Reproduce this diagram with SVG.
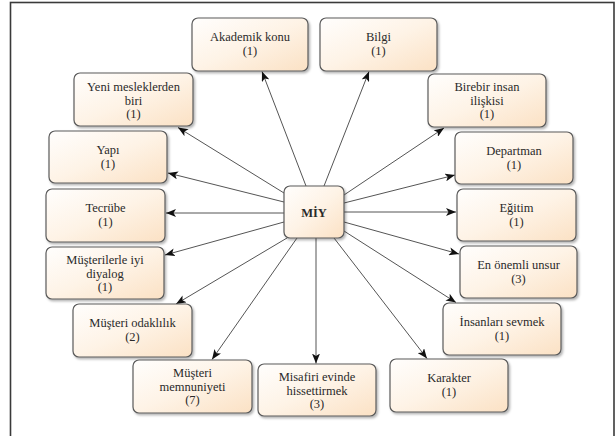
<svg xmlns="http://www.w3.org/2000/svg" width="616" height="436" viewBox="0 0 616 436">
<style>
.node rect{fill:url(#g);stroke:#5a5a5a;stroke-width:1.2;filter:url(#sh)}
.node text{font-size:12.5px;fill:#2a2a2a;text-anchor:middle}
.conn line{stroke:#555;stroke-width:1;marker-end:url(#ah)}
</style>
<defs>
<linearGradient id="g" x1="0" y1="0" x2="1" y2="1">
<stop offset="0" stop-color="#fffefd"/>
<stop offset="0.5" stop-color="#fef3e6"/>
<stop offset="1" stop-color="#fbe1c4"/>
</linearGradient>
<filter id="sh" x="-10%" y="-10%" width="125%" height="130%">
<feDropShadow dx="1.5" dy="1.8" stdDeviation="1.2" flood-color="#000" flood-opacity="0.3"/>
</filter>
<marker id="ah" markerUnits="userSpaceOnUse" markerWidth="10" markerHeight="8" refX="10" refY="4" orient="auto">
<path d="M0,0 L10,4 L0,8 L2.5,4 z" fill="#111"/>
</marker>
</defs>
<rect x="10.5" y="2.5" width="603.5" height="450" fill="#fff" stroke="#3a3a3a" stroke-width="1.6"/>
<g id="connectors" class="conn">
<line x1="306" y1="186" x2="262" y2="71.5"/>
<line x1="324" y1="186" x2="369" y2="71.5"/>
<line x1="284" y1="193" x2="178" y2="127.5"/>
<line x1="284" y1="202" x2="168" y2="173"/>
<line x1="284" y1="213" x2="166" y2="213"/>
<line x1="284" y1="222" x2="165" y2="255"/>
<line x1="287" y1="238" x2="176" y2="304"/>
<line x1="297" y1="238" x2="212" y2="359.5"/>
<line x1="316" y1="238" x2="316" y2="363.5"/>
<line x1="334" y1="238" x2="427" y2="358.5"/>
<line x1="344" y1="231" x2="456" y2="302.5"/>
<line x1="344" y1="222" x2="459" y2="254"/>
<line x1="344" y1="212" x2="456" y2="212"/>
<line x1="344" y1="203" x2="455" y2="175"/>
<line x1="344" y1="195" x2="444" y2="128"/>
</g>
<g font-family="'Liberation Serif', 'DejaVu Serif', serif">
<g id="n-miy" class="node"><rect x="284" y="186" width="60" height="52" rx="6"/><text x="314" y="216.5" font-weight="bold" font-size="13">MİY</text></g>
<g id="n-akademik" class="node"><rect x="192" y="18" width="116" height="53" rx="6"/><text x="250" y="41">Akademik konu</text><text x="250" y="55">(1)</text></g>
<g id="n-bilgi" class="node"><rect x="320" y="18" width="117" height="53" rx="6"/><text x="378.5" y="41">Bilgi</text><text x="378.5" y="55">(1)</text></g>
<g id="n-yeni" class="node"><rect x="74" y="73" width="119" height="53" rx="6"/><text x="133.5" y="91">Yeni mesleklerden</text><text x="133.5" y="104.5">biri</text><text x="133.5" y="118">(1)</text></g>
<g id="n-birebir" class="node"><rect x="428" y="74" width="118" height="53" rx="6"/><text x="487" y="91">Birebir insan</text><text x="487" y="104.5">ilişkisi</text><text x="487" y="118">(1)</text></g>
<g id="n-yapi" class="node"><rect x="49" y="131" width="118" height="52" rx="6"/><text x="108" y="154">Yapı</text><text x="108" y="168">(1)</text></g>
<g id="n-departman" class="node"><rect x="455" y="132" width="118" height="52" rx="6"/><text x="514" y="155">Departman</text><text x="514" y="169">(1)</text></g>
<g id="n-tecrube" class="node"><rect x="46" y="189" width="119" height="53" rx="6"/><text x="105.5" y="212">Tecrübe</text><text x="105.5" y="226">(1)</text></g>
<g id="n-egitim" class="node"><rect x="457" y="189" width="119" height="52" rx="6"/><text x="516.5" y="212">Eğitim</text><text x="516.5" y="226">(1)</text></g>
<g id="n-diyalog" class="node"><rect x="46" y="247" width="118" height="52" rx="6"/><text x="105" y="264">Müşterilerle iyi</text><text x="105" y="277.5">diyalog</text><text x="105" y="291">(1)</text></g>
<g id="n-unsur" class="node"><rect x="460" y="246" width="117" height="52" rx="6"/><text x="518.5" y="269">En önemli unsur</text><text x="518.5" y="283">(3)</text></g>
<g id="n-odaklilik" class="node"><rect x="73" y="304" width="119" height="53" rx="6"/><text x="132.5" y="327">Müşteri odaklılık</text><text x="132.5" y="341">(2)</text></g>
<g id="n-insanlari" class="node"><rect x="443" y="303" width="118" height="52" rx="6"/><text x="502" y="326">İnsanları sevmek</text><text x="502" y="340">(1)</text></g>
<g id="n-memnuniyet" class="node"><rect x="133" y="360" width="119" height="53" rx="6"/><text x="192.5" y="377">Müşteri</text><text x="192.5" y="390.5">memnuniyeti</text><text x="192.5" y="404">(7)</text></g>
<g id="n-misafir" class="node"><rect x="258" y="364" width="118" height="52" rx="6"/><text x="317" y="381">Misafiri evinde</text><text x="317" y="394.5">hissettirmek</text><text x="317" y="408">(3)</text></g>
<g id="n-karakter" class="node"><rect x="390" y="359" width="118" height="53" rx="6"/><text x="449" y="382">Karakter</text><text x="449" y="396">(1)</text></g>
</g>
</svg>
